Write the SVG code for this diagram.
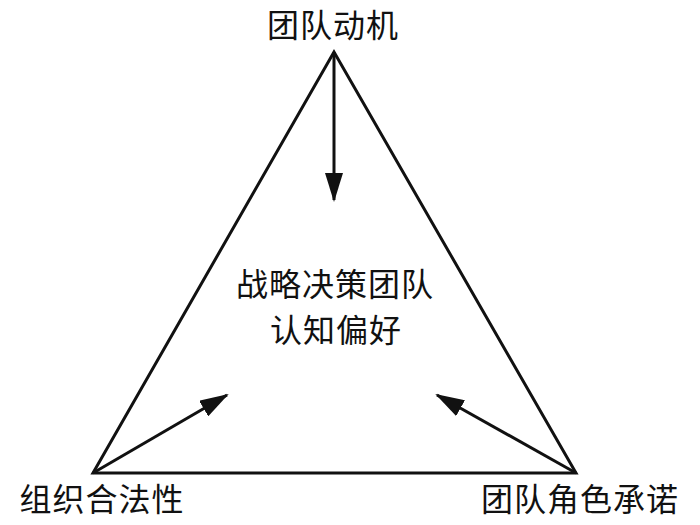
<svg xmlns="http://www.w3.org/2000/svg" width="700" height="525" viewBox="0 0 700 525">
<style>
text{font-family:"Noto Sans CJK SC","Noto Sans CJK JP",sans-serif;font-size:32px;fill:#111;letter-spacing:1px}
.edge{stroke:#111;stroke-width:3;fill:none}
</style>
<defs>
<marker id="ah" viewBox="0 0 29 18" markerWidth="29" markerHeight="18" refX="27" refY="9" orient="auto" markerUnits="userSpaceOnUse">
<path d="M0,0 L29,9 L0,18 Z" fill="#111"/>
</marker>
</defs>
<rect width="700" height="525" fill="#fff"/>
<g id="connectors">
<polygon class="edge" points="334,52 93,473 576,473" stroke-linejoin="miter"/>
<line class="edge" x1="334" y1="52" x2="334" y2="200" marker-end="url(#ah)"/>
<line class="edge" x1="93" y1="473" x2="227" y2="395" marker-end="url(#ah)"/>
<line class="edge" x1="576" y1="473" x2="437" y2="395" marker-end="url(#ah)"/>
</g>
<g id="n-top"><text x="333" y="37" text-anchor="middle">团队动机</text></g>
<g id="n-center"><text x="335" y="296" text-anchor="middle">战略决策团队</text><text x="336" y="342" text-anchor="middle">认知偏好</text></g>
<g id="n-left"><text x="102" y="511" text-anchor="middle">组织合法性</text></g>
<g id="n-right"><text x="580" y="511" text-anchor="middle">团队角色承诺</text></g>
</svg>
